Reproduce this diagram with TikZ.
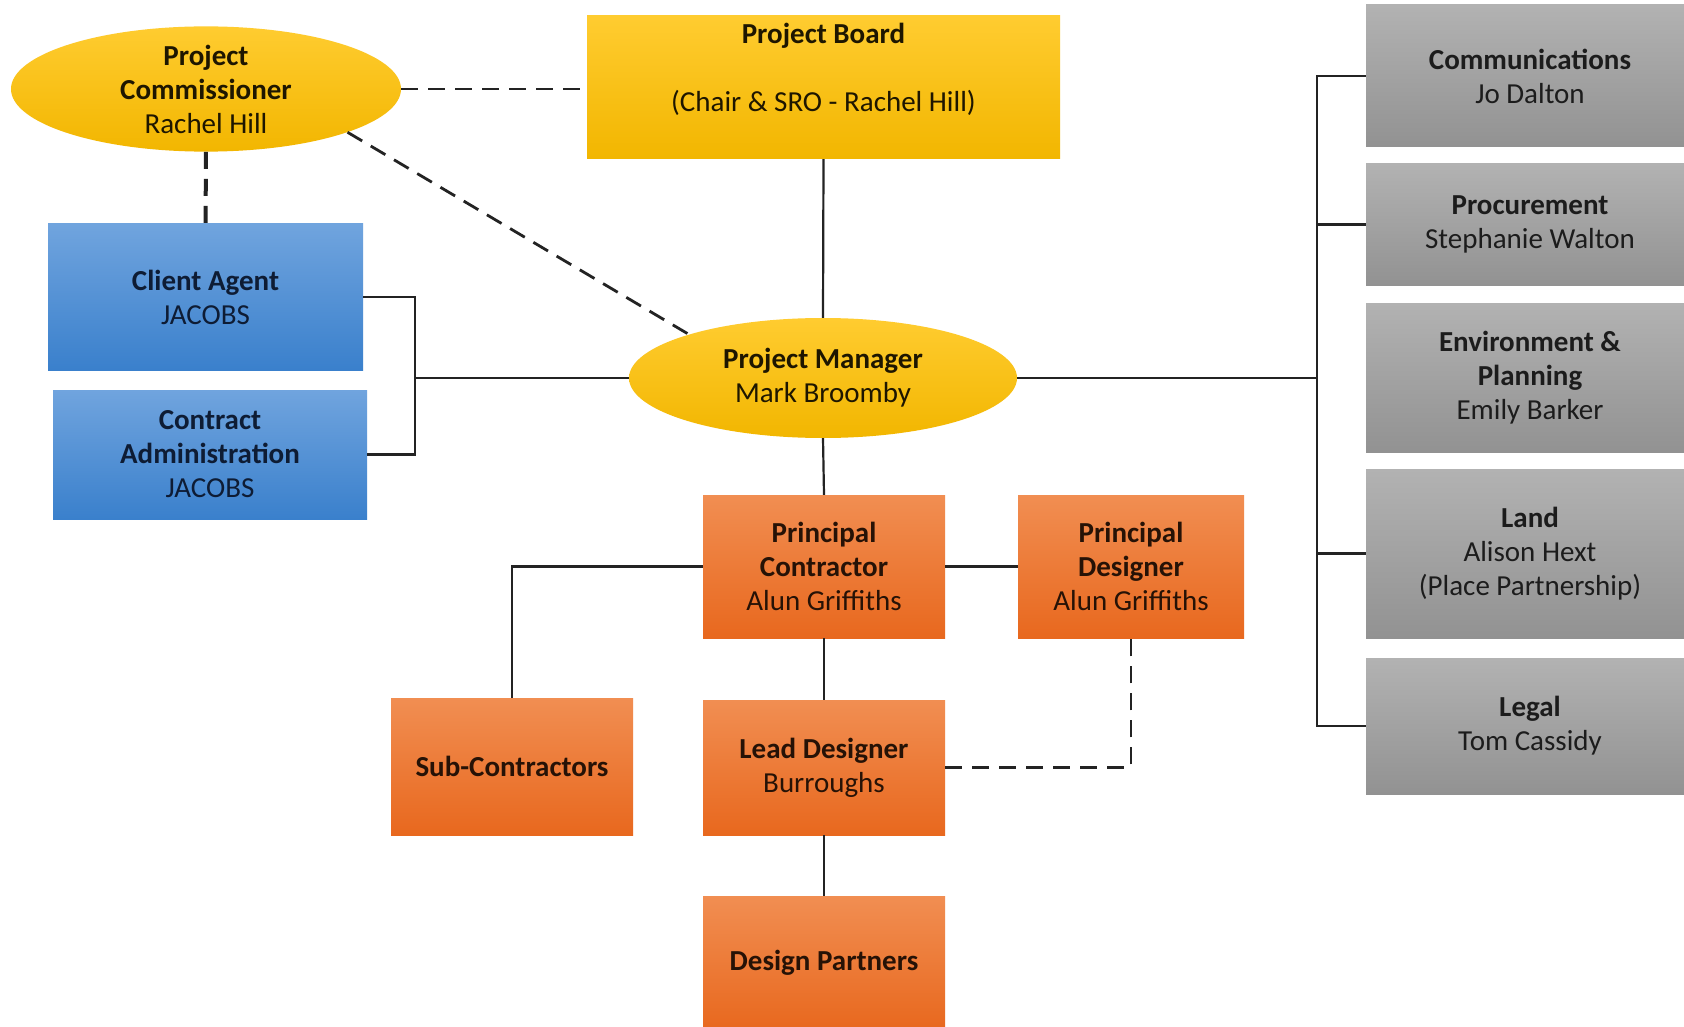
\documentclass[tikz,border=0pt]{standalone}
\usepackage{fontspec}
\setmainfont{Carlito}
\usetikzlibrary{shapes.geometric}

\definecolor{goldtop}{RGB}{255,204,48}
\definecolor{goldbot}{RGB}{242,182,0}
\definecolor{bluetop}{RGB}{112,164,222}
\definecolor{bluebot}{RGB}{58,128,204}
\definecolor{orangetop}{RGB}{241,142,82}
\definecolor{orangebot}{RGB}{232,104,30}
\definecolor{greytop}{RGB}{178,178,178}
\definecolor{greybot}{RGB}{146,146,146}
\definecolor{linecol}{RGB}{35,35,35}

\tikzset{
  basebox/.style={rectangle, inner sep=0pt, align=center,
    font=\fontsize{29}{34}\selectfont},
  goldbox/.style={basebox, top color=goldtop, bottom color=goldbot, text={rgb,255:red,30;green,22;blue,0}},
  goldoval/.style={ellipse, inner sep=0pt, align=center,
    font=\fontsize{29}{34}\selectfont,
    top color=goldtop, bottom color=goldbot, text={rgb,255:red,30;green,22;blue,0}},
  bluebox/.style={basebox, top color=bluetop, bottom color=bluebot, text={rgb,255:red,14;green,28;blue,52}},
  orangebox/.style={basebox, top color=orangetop, bottom color=orangebot, text={rgb,255:red,38;green,18;blue,6}},
  greybox/.style={basebox, top color=greytop, bottom color=greybot, text={rgb,255:red,28;green,28;blue,28},
    minimum width=328pt},
  link/.style={draw=linecol, line width=2.2pt},
  dashlink/.style={draw=linecol, line width=2.8pt, dash pattern=on 17pt off 10pt},
}

\begin{document}
\begin{tikzpicture}[x=1pt,y=-1pt]
  \clip (0,0) rectangle (1684,1027);
  \fill[white] (0,0) rectangle (1684,1027);

  % top level
  \node[goldoval, minimum width=390pt, minimum height=118pt] (comm) at (206,89)
    {\textbf{Project}\\\textbf{Commissioner}\\Rachel Hill};
  \node[goldbox, minimum width=473pt, minimum height=143pt] (board) at (823.5,87.5)
    {\textbf{Project Board}\\ \mbox{}\\(Chair \& SRO - Rachel Hill)\\[6pt] \mbox{}};
  \node[goldoval, minimum width=388pt, minimum height=120pt] (pm) at (823,378)
    {\textbf{Project Manager}\\Mark Broomby};

  % client side
  \node[bluebox, minimum width=315pt, minimum height=146pt] (agent) at (205.5,297)
    {\textbf{Client Agent}\\JACOBS};
  \node[bluebox, minimum width=314pt, minimum height=129pt] (admin) at (210,454.5)
    {\textbf{Contract}\\\textbf{Administration}\\JACOBS};

  % support functions
  \node[greybox, minimum height=142pt] (comms) at (1530,76)
    {\textbf{Communications}\\Jo Dalton};
  \node[greybox, minimum height=121pt] (proc) at (1530,224.5)
    {\textbf{Procurement}\\Stephanie Walton};
  \node[greybox, minimum height=149pt] (env) at (1530,377.5)
    {\textbf{Environment \&}\\\textbf{Planning}\\Emily Barker};
  \node[greybox, minimum height=169pt] (land) at (1530,553.5)
    {\textbf{Land}\\Alison Hext\\(Place Partnership)};
  \node[greybox, minimum height=136pt] (legal) at (1530,726)
    {\textbf{Legal}\\Tom Cassidy};

  % delivery team
  \node[orangebox, minimum width=242pt, minimum height=143pt] (pc) at (824,566.5)
    {\textbf{Principal}\\\textbf{Contractor}\\Alun Griffiths};
  \node[orangebox, minimum width=226pt, minimum height=143pt] (pd) at (1131,566.5)
    {\textbf{Principal}\\\textbf{Designer}\\Alun Griffiths};
  \node[orangebox, minimum width=242pt, minimum height=137pt] (sub) at (512,766.5)
    {\textbf{Sub-Contractors}};
  \node[orangebox, minimum width=242pt, minimum height=135pt] (ld) at (824,767.5)
    {\textbf{Lead Designer}\\Burroughs};
  \node[orangebox, minimum width=242pt, minimum height=134pt] (dp) at (824,963)
    {\textbf{Design Partners}};

  % junction points
  \coordinate (lbus) at (415,378);
  \coordinate (rbus) at (1317,378);
  \coordinate (agenttop) at ([yshift=-6pt]agent.north);

  % dashed relationships
  \draw[dashlink] (comm.east) -- (comm.east -| board.west);
  \draw[dashlink, line width=4pt] (comm.south) -- (agenttop);
  \draw[dashlink] (comm.-17) -- (pm.162);
  \draw[dashlink] (ld.east) -| (pd.south);

  % reporting lines
  \draw[link] (board.south) -- (pm.north);
  \draw[link] (agent.east) -| (lbus) |- (admin.east);
  \draw[link] (lbus) -- (pm.west);
  \draw[link] (pm.east) -- (rbus);
  \draw[link] (comms.west) -| (rbus) |- (legal.west);
  \draw[link] (proc.west) -- (proc.west -| rbus);
  \draw[link] (land.west) -- (land.west -| rbus);
  \draw[link] (pm.south) -- (pc.north);
  \draw[link] (pc.east) -- (pd.west);
  \draw[link] (pc.west) -| (sub.north);
  \draw[link] (pc.south) -- (ld.north);
  \draw[link] (ld.south) -- (dp.north);
\end{tikzpicture}
\end{document}
